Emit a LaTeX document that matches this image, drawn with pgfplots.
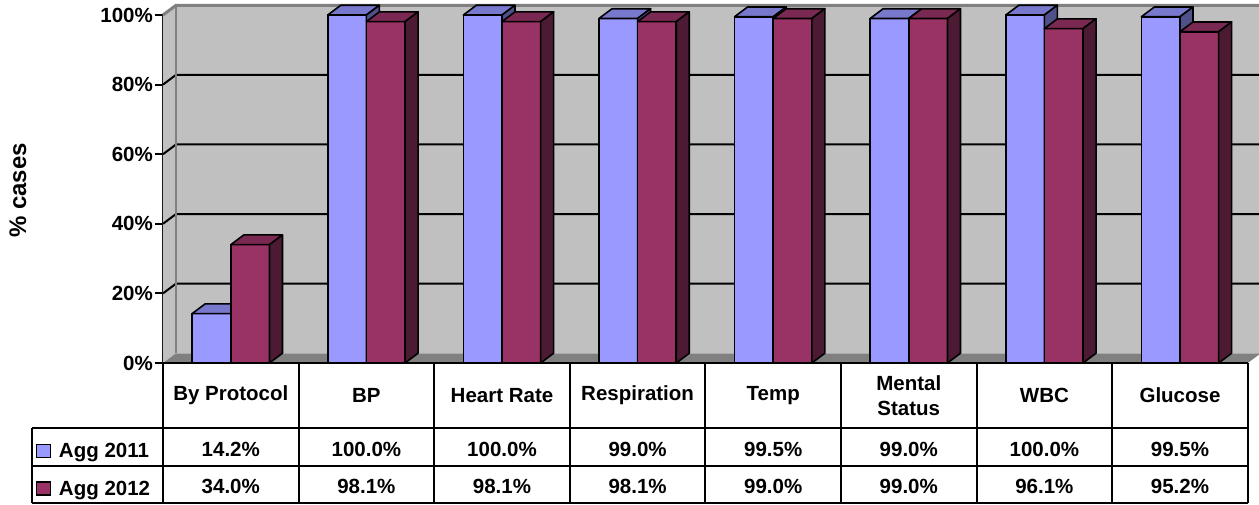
\documentclass[border=0pt]{standalone}
\usepackage{fontspec}
\setmainfont{Liberation Sans}
\usepackage{pgfplots}
\usepackage{pgfplotstable}
\pgfplotsset{compat=1.18}

\definecolor{aggA}{HTML}{9999FF}
\definecolor{aggAtop}{HTML}{7878CC}
\definecolor{aggAside}{HTML}{50508A}
\definecolor{aggB}{HTML}{993366}
\definecolor{aggBtop}{HTML}{7A2952}
\definecolor{aggBside}{HTML}{4D1A33}
\definecolor{wallgray}{HTML}{C0C0C0}
\definecolor{floorgray}{HTML}{808080}

\newcommand\tabfont{\fontsize{20.5}{25}\selectfont\bfseries}

% share of cases per check, 2011 (a) and 2012 (b)
\pgfplotstableread{
idx a     b
0   14.2  34.0
1   100.0 98.1
2   100.0 98.1
3   99.0  98.1
4   99.5  99.0
5   99.0  99.0
6   100.0 96.1
7   99.5  95.2
}\datatable

% depth of the 3-D extrusion and front width of one bar (x unit 135.6pt, y unit 3.48pt)
\def\depthx{13pt}
\def\depthy{9.75pt}
\def\barw{38.65pt}

% a whole 3-D bar (front, top, side); the mark sits on the front top-left corner
\newcommand\declarebarmark[4]{%
  \pgfdeclareplotmark{#1}{%
    \pgfsetroundjoin
    \pgfsetstrokecolor{black}%
    \pgfpathrectanglecorners{\pgfpoint{0pt}{0pt}}{\pgfpoint{\barw}{-\barval*3.48pt}}%
    \pgfsetfillcolor{#2}%
    \pgfusepath{fill,stroke}%
    \pgfpathmoveto{\pgfpoint{0pt}{0pt}}%
    \pgfpathlineto{\pgfpoint{\barw}{0pt}}%
    \pgfpathlineto{\pgfpoint{\barw+\depthx}{\depthy}}%
    \pgfpathlineto{\pgfpoint{\depthx}{\depthy}}%
    \pgfpathclose
    \pgfsetfillcolor{#3}%
    \pgfusepath{fill,stroke}%
    \pgfpathmoveto{\pgfpoint{\barw}{0pt}}%
    \pgfpathlineto{\pgfpoint{\barw+\depthx}{\depthy}}%
    \pgfpathlineto{\pgfpoint{\barw+\depthx}{\depthy-\barval*3.48pt}}%
    \pgfpathlineto{\pgfpoint{\barw}{-\barval*3.48pt}}%
    \pgfpathclose
    \pgfsetfillcolor{#4}%
    \pgfusepath{fill,stroke}%
  }%
}
\declarebarmark{barA}{aggA}{aggAtop}{aggAside}
\declarebarmark{barB}{aggB}{aggBtop}{aggBside}

\pgfplotsset{
  sqlegend/.style={legend image code/.code={%
    \draw[##1, draw=black, line width=1.4pt] (0.7pt,-4.7pt) rectangle (14.3pt,8.3pt);}},
}

\begin{document}
\begin{tikzpicture}[font=\tabfont]
\path[use as bounding box] (0pt,0pt) rectangle (1259pt,504pt);
\begin{axis}[
  at={(163pt,141pt)}, anchor=south west,
  x=135.6pt, y=3.48pt,
  xmin=0, xmax=8, ymin=0, ymax=100,
  enlargelimits=false, clip=false,
  axis lines*=left,
  x axis line style={draw=none},
  y axis line style={black, line width=2pt},
  ytick={0,20,40,60,80,100},
  yticklabels={0\%,20\%,40\%,60\%,80\%,100\%},
  ytick align=outside,
  major tick length=8pt,
  ytick style={black, line width=2pt},
  yticklabel style={inner sep=2pt, font=\tabfont},
  xtick={0.5,1.5,...,7.5},
  xticklabels={By Protocol,BP,Heart Rate,Respiration,Temp,{Mental\\Status},WBC,Glucose},
  xtick style={draw=none},
  xticklabel style={anchor=center, yshift=-32.3pt, align=center, font=\tabfont},
  ylabel={\% cases},
  every axis y label/.style={at={(rel axis cs:-0.1337,0.4957)}, rotate=90, anchor=center,
    font=\fontsize{24}{28}\selectfont\bfseries},
  legend cell align=left,
  legend style={at={(axis cs:-0.9366,-23.13)}, anchor=north west, draw=none, fill=none,
    inner sep=0pt, outer sep=0pt, row sep=18.5pt, column sep=8pt, font=\tabfont,
    nodes={inner sep=0pt, text height=14.5pt, text depth=4.5pt}},
]
% walls and floor
\fill[wallgray] (axis cs:0.0959,2.8) rectangle (axis cs:8.0959,102.8);
\fill[wallgray] (axis cs:0,0) -- (axis cs:0.0959,2.8) -- (axis cs:0.0959,102.8) -- (axis cs:0,100) -- cycle;
\fill[floorgray] (axis cs:0,0) -- (axis cs:8,0) -- (axis cs:8.0959,2.8) -- (axis cs:0.0959,2.8) -- cycle;
% grid lines on side and back wall
\foreach \g in {20,40,60,80} {
  \edef\tmp{\noexpand\draw[black, line width=2pt] (axis cs:0,\g) -- (axis cs:0.0959,\g+2.8) -- (axis cs:8.0959,\g+2.8);}
  \tmp
}
\draw[floorgray, line width=1.5pt] (axis cs:0.0959,2.8) -- (axis cs:0.0959,102.8);
\draw[floorgray, line width=3pt] (axis cs:0,100) -- (axis cs:0.0959,102.8) -- (axis cs:8.0959,102.8);

% Agg 2011: front faces, then the full 3-D bars
\addplot[ybar, bar width=0.285, bar shift=0pt, fill=aggA, draw=black, line width=1.6pt, sqlegend]
  table[x expr=\thisrow{idx}+0.3575, y=a] \datatable;
\addlegendentry{Agg 2011}
\addplot[forget plot, scatter, only marks, mark=barA, line width=1.6pt, point meta=y,
  visualization depends on={rawy \as \barval}]
  table[x expr=\thisrow{idx}+0.215, y=a] \datatable;

% Agg 2012
\addplot[ybar, bar width=0.285, bar shift=0pt, fill=aggB, draw=black, line width=1.6pt, sqlegend]
  table[x expr=\thisrow{idx}+0.6425, y=b] \datatable;
\addlegendentry{Agg 2012}
\addplot[forget plot, scatter, only marks, mark=barB, line width=1.6pt, point meta=y,
  visualization depends on={rawy \as \barval}]
  table[x expr=\thisrow{idx}+0.5, y=b] \datatable;

% data table grid
\draw[black, line width=2pt] (axis cs:0,0) -- (axis cs:8,0);
\draw[black, line width=2pt] (axis cs:-0.966,-18.68) -- (axis cs:8,-18.68);
\draw[black, line width=2pt] (axis cs:-0.966,-29.6) -- (axis cs:8,-29.6);
\draw[black, line width=2pt] (axis cs:-0.966,-40.23) -- (axis cs:8,-40.23);
\draw[black, line width=2pt] (axis cs:-0.966,-18.68) -- (axis cs:-0.966,-40.23);
\foreach \c in {0,...,8} {
  \edef\tmp{\noexpand\draw[black, line width=2pt] (axis cs:\c,0) -- (axis cs:\c,-40.23);}
  \tmp
}

% table values
\addplot[forget plot, draw=none, mark=none, point meta=\thisrow{a},
  nodes near coords={\pgfmathprintnumber[fixed,fixed zerofill,precision=1,assume math mode=true]{\pgfplotspointmeta}\%},
  nodes near coords align=center,
  every node near coord/.append style={anchor=center, inner sep=0pt, black, font=\tabfont}]
  table[x expr=\thisrow{idx}+0.5, y expr=-24.71] \datatable;
\addplot[forget plot, draw=none, mark=none, point meta=\thisrow{b},
  nodes near coords={\pgfmathprintnumber[fixed,fixed zerofill,precision=1,assume math mode=true]{\pgfplotspointmeta}\%},
  nodes near coords align=center,
  every node near coord/.append style={anchor=center, inner sep=0pt, black, font=\tabfont}]
  table[x expr=\thisrow{idx}+0.5, y expr=-35.34] \datatable;
\end{axis}
\end{tikzpicture}
\end{document}
